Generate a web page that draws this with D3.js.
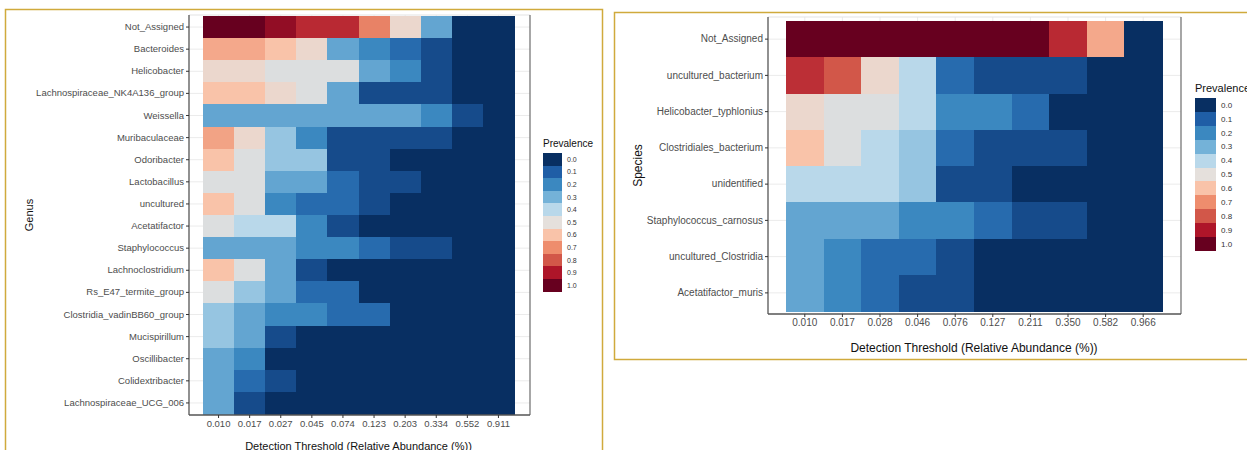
<!DOCTYPE html>
<html>
<head>
<meta charset="utf-8">
<script src="https://cdn.jsdelivr.net/npm/d3@7"></script>
<style>
  body { margin: 0; background: #fff; }
  svg { display: block; font-family: "Liberation Sans", Arial, sans-serif; }
  .tick line { stroke: #333; }
  .domain { stroke: #555; stroke-width: 1.3; }
  .cell, .key { shape-rendering: crispEdges; }
</style>
</head>
<body>
<svg id="chart" width="1247" height="450"></svg>
<script>
// ---- data ----
const genusNames = ["Not_Assigned", "Bacteroides", "Helicobacter", "Lachnospiraceae_NK4A136_group",
  "Weissella", "Muribaculaceae", "Odoribacter", "Lactobacillus", "uncultured", "Acetatifactor",
  "Staphylococcus", "Lachnoclostridium", "Rs_E47_termite_group", "Clostridia_vadinBB60_group",
  "Mucispirillum", "Oscillibacter", "Colidextribacter", "Lachnospiraceae_UCG_006"];
const genusThresholds = ["0.010", "0.017", "0.027", "0.045", "0.074", "0.123", "0.203", "0.334", "0.552", "0.911"];
const genusPrevalence = [
  [1.0, 1.0, 0.94, 0.87, 0.87, 0.72, 0.53, 0.27, 0, 0],
  [0.65, 0.65, 0.6, 0.53, 0.27, 0.2, 0.13, 0.06, 0, 0],
  [0.53, 0.53, 0.48, 0.48, 0.48, 0.27, 0.2, 0.06, 0, 0],
  [0.6, 0.6, 0.53, 0.48, 0.27, 0.06, 0.06, 0.06, 0, 0],
  [0.27, 0.27, 0.27, 0.27, 0.27, 0.27, 0.27, 0.2, 0.06, 0],
  [0.66, 0.53, 0.35, 0.2, 0.06, 0.06, 0.06, 0.06, 0, 0],
  [0.6, 0.48, 0.35, 0.35, 0.06, 0.06, 0, 0, 0, 0],
  [0.48, 0.48, 0.27, 0.27, 0.13, 0.06, 0.06, 0, 0, 0],
  [0.6, 0.48, 0.2, 0.13, 0.13, 0.06, 0, 0, 0, 0],
  [0.48, 0.4, 0.4, 0.2, 0.06, 0, 0, 0, 0, 0],
  [0.27, 0.27, 0.27, 0.2, 0.2, 0.13, 0.06, 0.06, 0, 0],
  [0.6, 0.48, 0.27, 0.06, 0, 0, 0, 0, 0, 0],
  [0.48, 0.35, 0.27, 0.13, 0.13, 0, 0, 0, 0, 0],
  [0.35, 0.27, 0.2, 0.2, 0.13, 0.13, 0, 0, 0, 0],
  [0.35, 0.27, 0.06, 0, 0, 0, 0, 0, 0, 0],
  [0.27, 0.2, 0, 0, 0, 0, 0, 0, 0, 0],
  [0.27, 0.13, 0.06, 0, 0, 0, 0, 0, 0, 0],
  [0.27, 0.06, 0, 0, 0, 0, 0, 0, 0, 0]
];

const speciesNames = ["Not_Assigned", "uncultured_bacterium", "Helicobacter_typhlonius",
  "Clostridiales_bacterium", "unidentified", "Staphylococcus_carnosus", "uncultured_Clostridia",
  "Acetatifactor_muris"];
const speciesThresholds = ["0.010", "0.017", "0.028", "0.046", "0.076", "0.127", "0.211", "0.350", "0.582", "0.966"];
const speciesPrevalence = [
  [1, 1, 1, 1, 1, 1, 1, 0.87, 0.65, 0],
  [0.86, 0.8, 0.53, 0.4, 0.13, 0.06, 0.06, 0.06, 0, 0],
  [0.53, 0.48, 0.48, 0.4, 0.2, 0.2, 0.13, 0, 0, 0],
  [0.6, 0.48, 0.4, 0.35, 0.13, 0.06, 0.06, 0.06, 0, 0],
  [0.4, 0.4, 0.4, 0.35, 0.06, 0.06, 0, 0, 0, 0],
  [0.27, 0.27, 0.27, 0.2, 0.2, 0.13, 0.06, 0.06, 0, 0],
  [0.27, 0.2, 0.13, 0.13, 0.06, 0, 0, 0, 0, 0],
  [0.27, 0.2, 0.13, 0.06, 0.06, 0, 0, 0, 0, 0]
];

const legendBreaks = [0.0, 0.1, 0.2, 0.3, 0.4, 0.5, 0.6, 0.7, 0.8, 0.9, 1.0];
const paletteColors = ["#082f62", "#1f5ea6", "#3b88c0", "#74b2d8", "#b9d8ea", "#e5e0dc",
  "#f9c3a9", "#ee8d6d", "#d25749", "#ae1529", "#67001f"];

const color = d3.scaleLinear().domain(legendBreaks).range(paletteColors).clamp(true);

const svg = d3.select("#chart");

// gold frames round each figure
svg.append("rect").attr("x", 5.5).attr("y", 9.5).attr("width", 597).attr("height", 460)
  .attr("fill", "none").attr("stroke", "#d0aa3c").attr("stroke-width", 1.5);
svg.append("rect").attr("x", 614.5).attr("y", 12.5).attr("width", 650).attr("height", 347)
  .attr("fill", "none").attr("stroke", "#d0aa3c").attr("stroke-width", 1.5);

function drawHeatmap(o) {
  const g = svg.append("g");
  const x = d3.scaleBand().domain(o.cols).range([o.tx0, o.tx1]);
  const y = d3.scaleBand().domain(o.rows).range([o.ty0, o.ty1]);

  // grid
  g.selectAll(".hgrid").data(o.rows).join("line")
    .attr("x1", o.px0).attr("x2", o.px1)
    .attr("y1", d => y(d) + y.bandwidth() / 2).attr("y2", d => y(d) + y.bandwidth() / 2)
    .attr("stroke", "#ebebeb");
  g.selectAll(".vgrid").data(o.cols).join("line")
    .attr("x1", d => x(d) + x.bandwidth() / 2).attr("x2", d => x(d) + x.bandwidth() / 2)
    .attr("y1", o.py0).attr("y2", o.py1)
    .attr("stroke", "#ebebeb");

  // tiles
  const cells = [];
  o.values.forEach((row, i) => row.forEach((v, j) => cells.push({ r: o.rows[i], c: o.cols[j], v })));
  g.selectAll(".cell").data(cells).join("rect")
    .attr("class", "cell")
    .attr("x", d => x(d.c)).attr("y", d => y(d.r))
    .attr("width", x.bandwidth() + 1).attr("height", y.bandwidth() + 1)
    .attr("fill", d => color(d.v));

  // panel edges
  g.append("line").attr("x1", o.px0).attr("x2", o.px1).attr("y1", o.py0).attr("y2", o.py0)
    .attr("stroke", "#e3e3e3");
  g.append("line").attr("x1", o.px1).attr("x2", o.px1).attr("y1", o.py0).attr("y2", o.py1)
    .attr("stroke", "#777").attr("stroke-width", 1.3);

  const yAxis = g.append("g").attr("transform", `translate(${o.px0},0)`)
    .call(d3.axisLeft(y).tickSize(3).tickPadding(2));
  yAxis.select(".domain").attr("d", `M0,${o.py0}V${o.py1}`);
  yAxis.selectAll("text").attr("fill", "#4d4d4d").style("font-size", o.fs + "px");

  const xAxis = g.append("g").attr("transform", `translate(0,${o.py1})`)
    .call(d3.axisBottom(x).tickSize(3).tickPadding(2));
  xAxis.select(".domain").attr("d", `M${o.px0},0H${o.px1}`);
  xAxis.selectAll("text").attr("fill", "#4d4d4d").style("font-size", o.fs + "px");

  g.append("text").attr("x", (o.tx0 + o.tx1) / 2).attr("y", o.xTitleY)
    .attr("text-anchor", "middle").style("font-size", o.titleFs + "px").attr("fill", "#111")
    .text("Detection Threshold (Relative Abundance (%))");
  g.append("text")
    .attr("transform", `translate(${o.yTitleX},${(o.py0 + o.py1) / 2}) rotate(-90)`)
    .attr("text-anchor", "middle").style("font-size", o.titleFs + "px").attr("fill", "#111")
    .text(o.yTitle);

  // legend
  const lg = g.append("g");
  lg.append("text").attr("x", o.lx).attr("y", o.ly - 6)
    .style("font-size", o.lTitleFs + "px").attr("fill", "#111").text("Prevalence");
  lg.selectAll(".key").data(legendBreaks).join("rect")
    .attr("class", "key")
    .attr("x", o.lx).attr("y", (d, i) => o.ly + i * o.lstep)
    .attr("width", o.lw).attr("height", o.lstep + 0.5)
    .attr("fill", d => color(d));
  lg.selectAll(".lab").data(legendBreaks).join("text")
    .attr("x", o.lx + o.lw + 5).attr("y", (d, i) => o.ly + (i + 0.5) * o.lstep)
    .attr("dy", "0.35em").style("font-size", o.lFs + "px").attr("fill", "#333")
    .text(d => d.toFixed(1));
}

drawHeatmap({
  rows: genusNames, cols: genusThresholds, values: genusPrevalence,
  px0: 189, px1: 530, py0: 15, py1: 415,
  tx0: 203, tx1: 514, ty0: 16, ty1: 414,
  fs: 9.5, titleFs: 11, xTitleY: 450, yTitleX: 33, yTitle: "Genus",
  lx: 543, ly: 153, lw: 19, lstep: 12.6, lFs: 7, lTitleFs: 10
});

drawHeatmap({
  rows: speciesNames, cols: speciesThresholds, values: speciesPrevalence,
  px0: 768, px1: 1181, py0: 17, py1: 314,
  tx0: 786, tx1: 1162, ty0: 21, ty1: 311,
  fs: 10, titleFs: 12, xTitleY: 352, yTitleX: 642, yTitle: "Species",
  lx: 1195, ly: 98, lw: 21, lstep: 13.9, lFs: 8, lTitleFs: 11
});
</script>
</body>
</html>
